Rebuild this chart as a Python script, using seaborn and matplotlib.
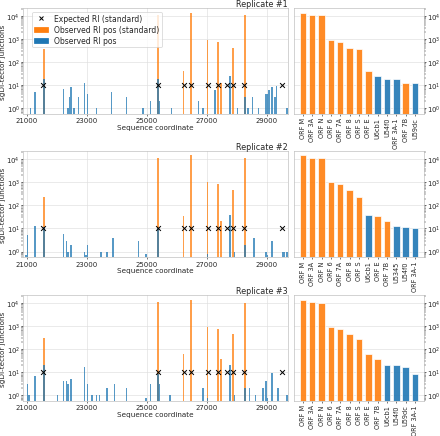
import numpy as np
import pandas as pd
import matplotlib
matplotlib.use("Agg")
import matplotlib.pyplot as plt
import seaborn as sns
from matplotlib.lines import Line2D
from matplotlib.patches import Patch

# standard regulatory (TRS) positions
std_names = ["ORF S", "ORF 3A", "ORF E", "ORF M", "ORF 6", "ORF 7A", "ORF 7B", "ORF 8", "ORF N"]
std_obs_pos = [21552, 25381, 26233, 26467, 27037, 27385, 27470, 27884, 28256]
expected_pos = [21552, 25381, 26233, 26467, 27037, 27385, 27669, 27884, 28256, 29530]
expected_level = 10

# replicate 1
r1_std = [350, 11400, 40, 13000, 876, 745, 11.8, 400, 10700]
r1_pos = [21133, 21277, 21552, 22200, 22377, 22400, 22467, 22577, 22700, 22910, 23010, 23333,
          23833, 24343, 24877, 25143, 25381, 25420, 25843, 26710, 26853, 27253, 27767, 28010,
          28287, 28377, 28533, 28733, 28967, 29020, 29087, 29177, 29277, 29343, 29687]
r1_val = [1, 5, 19, 7, 1, 3, 8, 1, 3, 12, 4, 1,
          5, 3, 1, 2, 17.5, 2, 1, 2, 1, 6, 24, 1,
          3, 1, 3, 1, 4, 4, 6, 8, 3, 9, 1]
r1_labels = ["ORF M", "ORF 3A", "ORF N", "ORF 6", "ORF 7A", "ORF 8", "ORF S", "ORF E",
             "U6cb1", "U54f0", "ORF 3A-1", "ORF 7B", "U59dc"]
r1_counts = [13000, 11400, 10700, 876, 745, 400, 350, 40, 24, 19, 17.5, 11.8, 11.8]

# replicate 2
r2_std = [244, 11800, 36, 14800, 1030, 820, 21, 470, 11000]
r2_pos = [20977, 21020, 21277, 21552, 22243, 22333, 22377, 22467, 22910, 22960, 23000, 23467,
          23667, 23867, 24743, 24977, 25381, 27000, 27767, 27933, 28277, 28553, 28967, 29010,
          29167, 29500, 29567, 29687]
r2_val = [0.7, 5, 13, 11.4, 6, 3, 1, 2, 1, 0.7, 2, 1,
          1, 4, 3, 0.75, 10.3, 0.8, 38.5, 1, 2, 4, 1, 0.7,
          3, 1, 1, 1]
r2_labels = ["ORF M", "ORF 3A", "ORF N", "ORF 6", "ORF 7A", "ORF 8", "ORF S", "U6cb1",
             "ORF E", "ORF 7B", "U5345", "U54f0", "ORF 3A-1"]
r2_counts = [14800, 11800, 11000, 1030, 820, 470, 244, 38.5, 36, 21, 13, 11.4, 10.3]

# replicate 3
r3_std = [300, 11800, 61, 13800, 970, 795, 38.5, 455, 10000]
r3_pos = [21000, 21050, 21277, 21552, 22033, 22243, 22333, 22380, 22467, 22910, 23000, 23167,
          23343, 23443, 23667, 23910, 24300, 24977, 25143, 25381, 25420, 25787, 26853, 27000,
          27767, 27920, 28287, 28443, 28620, 28887, 28967, 29010, 29167, 29367, 29687]
r3_val = [3, 1, 7, 20.6, 1, 4, 4, 3, 5, 16.9, 3, 1,
          1, 1, 2, 3, 2, 0.75, 3, 8.5, 3, 1, 2, 0.75,
          21.3, 1, 2, 2, 1, 2, 4, 0.75, 9, 2, 1]
r3_labels = ["ORF M", "ORF 3A", "ORF N", "ORF 6", "ORF 7A", "ORF 8", "ORF S", "ORF E",
             "ORF 7B", "U6cb1", "U54f0", "U59dc", "ORF 3A-1"]
r3_counts = [13800, 11800, 10000, 970, 795, 455, 286, 61, 38.5, 21.3, 20.6, 16.9, 8.5]

reps = [
    (r1_std, r1_pos, r1_val, r1_labels, r1_counts),
    (r2_std, r2_pos, r2_val, r2_labels, r2_counts),
    (r3_std, r3_pos, r3_val, r3_labels, r3_counts),
]

ORANGE = "#ff7f0e"
BLUE = "#1f77b4"

sns.set_style("whitegrid", {"xtick.bottom": True, "ytick.left": True,
                            "axes.edgecolor": "#b8b8b8", "grid.color": "#dddddd"})
plt.rcParams["font.family"] = ["DejaVu Sans"]

fig = plt.figure(figsize=(8, 7.945), dpi=55)
bottoms = [0.7368, 0.4085, 0.0794]

for i, (std_vals, pos, vals, labels, counts) in enumerate(reps):
    axl = fig.add_axes([0.0523, bottoms[i], 0.602, 0.2426])
    axr = fig.add_axes([0.668, bottoms[i], 0.2955, 0.2426])

    std_df = pd.DataFrame({"pos": std_obs_pos, "n": std_vals})
    oth_df = pd.DataFrame({"pos": pos, "n": vals})
    sns.histplot(data=std_df, x="pos", weights="n", binwidth=50, binrange=(20850, 29750),
                 color=ORANGE, alpha=0.75, linewidth=0, ax=axl)
    sns.histplot(data=oth_df, x="pos", weights="n", binwidth=50, binrange=(20850, 29750),
                 color=BLUE, alpha=0.75, linewidth=0, ax=axl)
    sns.scatterplot(x=expected_pos, y=[expected_level] * len(expected_pos), marker="x",
                    color="black", s=40, linewidth=1.3, ax=axl, zorder=5)
    axl.set_yscale("log")
    axl.set_ylim(0.55, 2.2e4)
    axl.set_xlim(20880, 29710)
    axl.set_xticks([21000, 23000, 25000, 27000, 29000])
    axl.set_xlabel("Sequence coordinate", fontsize=9.5, labelpad=1)
    axl.set_ylabel("sgDI-tector junctions", fontsize=9.5, labelpad=1)
    axl.tick_params(labelsize=9, length=3, pad=1)
    axl.set_title(f"Replicate #{i + 1}", loc="right", fontsize=10.5, pad=3)

    kind = ["std" if lab in std_names else "other" for lab in labels]
    sns.barplot(x=labels, y=counts, hue=kind, palette={"std": ORANGE, "other": BLUE},
                dodge=False, width=0.7, alpha=0.9, saturation=1, legend=False, ax=axr)
    axr.set_yscale("log")
    axr.set_ylim(0.55, 2.2e4)
    axr.set_xlim(-0.95, len(labels) - 0.05)
    axr.yaxis.tick_right()
    axr.grid(axis="x", visible=False)
    axr.tick_params(axis="x", rotation=90, labelsize=8.5, length=3, pad=1)
    axr.tick_params(axis="y", labelsize=9, length=3, pad=1, right=True, left=False)
    axr.set_ylabel("")

    if i == 0:
        handles = [
            Line2D([], [], marker="x", color="black", linestyle="none", markersize=6,
                   markeredgewidth=1.3, label="Expected RI (standard)"),
            Patch(color=ORANGE, label="Observed RI pos (standard)"),
            Patch(color=BLUE, label="Observed RI pos"),
        ]
        axl.legend(handles=handles, loc="upper left", fontsize=10, frameon=True,
                   borderpad=0.3, labelspacing=0.25, handlelength=1.8,
                   bbox_to_anchor=(0.02, 1.0))

fig.savefig("out.png", dpi=55)
